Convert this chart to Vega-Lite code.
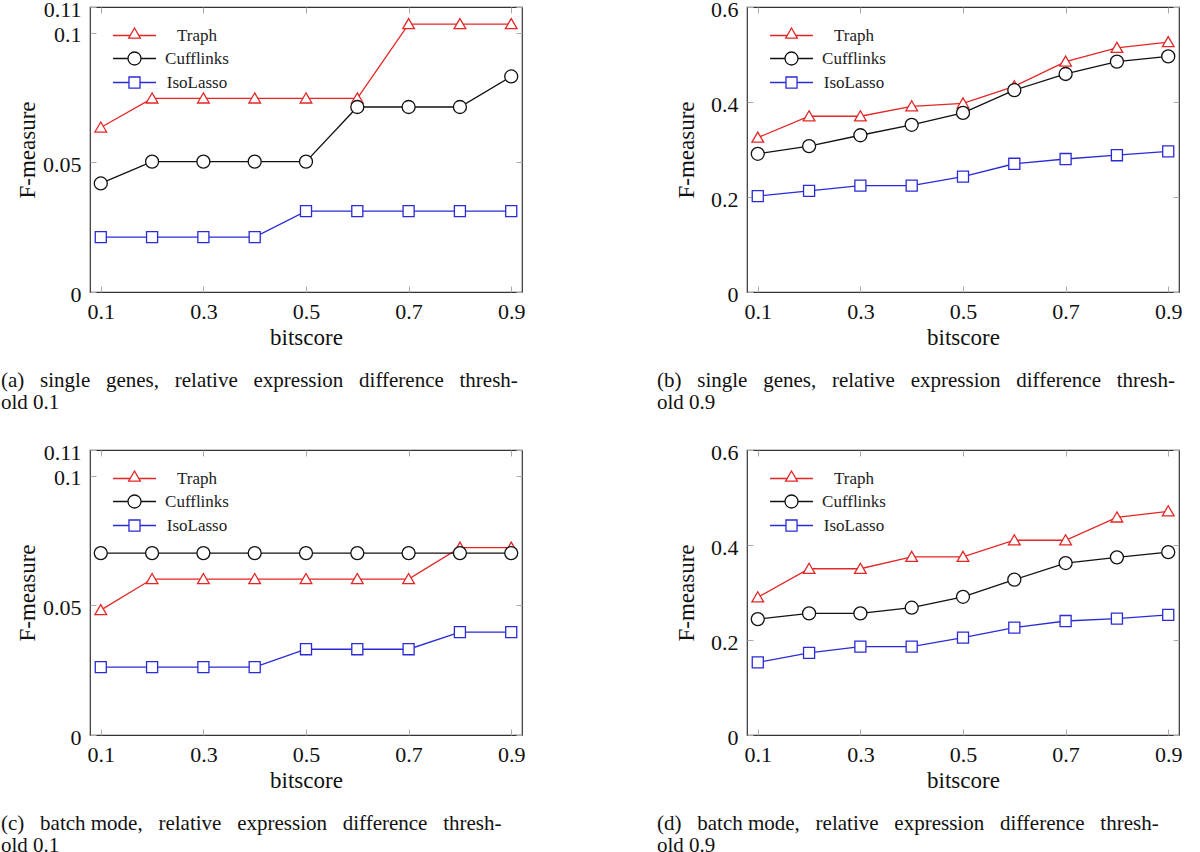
{
  "$schema": "https://vega.github.io/schema/vega-lite/v6.json",
  "padding": {"top": -3, "left": 0, "right": 0, "bottom": 0},
  "background": "white",
  "datasets": {
    "a": [
      {"m": "Traph", "x": 0.1, "y": 0.0635}, {"m": "Traph", "x": 0.2, "y": 0.0747}, {"m": "Traph", "x": 0.3, "y": 0.0747}, {"m": "Traph", "x": 0.4, "y": 0.0747}, {"m": "Traph", "x": 0.5, "y": 0.0747}, {"m": "Traph", "x": 0.6, "y": 0.0747}, {"m": "Traph", "x": 0.7, "y": 0.1034}, {"m": "Traph", "x": 0.8, "y": 0.1034}, {"m": "Traph", "x": 0.9, "y": 0.1034},
      {"m": "Cufflinks", "x": 0.1, "y": 0.0419}, {"m": "Cufflinks", "x": 0.2, "y": 0.0503}, {"m": "Cufflinks", "x": 0.3, "y": 0.0503}, {"m": "Cufflinks", "x": 0.4, "y": 0.0503}, {"m": "Cufflinks", "x": 0.5, "y": 0.0503}, {"m": "Cufflinks", "x": 0.6, "y": 0.0714}, {"m": "Cufflinks", "x": 0.7, "y": 0.0714}, {"m": "Cufflinks", "x": 0.8, "y": 0.0714}, {"m": "Cufflinks", "x": 0.9, "y": 0.0832},
      {"m": "IsoLasso", "x": 0.1, "y": 0.0212}, {"m": "IsoLasso", "x": 0.2, "y": 0.0212}, {"m": "IsoLasso", "x": 0.3, "y": 0.0212}, {"m": "IsoLasso", "x": 0.4, "y": 0.0212}, {"m": "IsoLasso", "x": 0.5, "y": 0.0312}, {"m": "IsoLasso", "x": 0.6, "y": 0.0312}, {"m": "IsoLasso", "x": 0.7, "y": 0.0312}, {"m": "IsoLasso", "x": 0.8, "y": 0.0312}, {"m": "IsoLasso", "x": 0.9, "y": 0.0312}
    ],
    "b": [
      {"m": "Traph", "x": 0.1, "y": 0.325}, {"m": "Traph", "x": 0.2, "y": 0.370}, {"m": "Traph", "x": 0.3, "y": 0.370}, {"m": "Traph", "x": 0.4, "y": 0.391}, {"m": "Traph", "x": 0.5, "y": 0.397}, {"m": "Traph", "x": 0.6, "y": 0.433}, {"m": "Traph", "x": 0.7, "y": 0.485}, {"m": "Traph", "x": 0.8, "y": 0.514}, {"m": "Traph", "x": 0.9, "y": 0.526},
      {"m": "Cufflinks", "x": 0.1, "y": 0.291}, {"m": "Cufflinks", "x": 0.2, "y": 0.307}, {"m": "Cufflinks", "x": 0.3, "y": 0.330}, {"m": "Cufflinks", "x": 0.4, "y": 0.352}, {"m": "Cufflinks", "x": 0.5, "y": 0.377}, {"m": "Cufflinks", "x": 0.6, "y": 0.425}, {"m": "Cufflinks", "x": 0.7, "y": 0.459}, {"m": "Cufflinks", "x": 0.8, "y": 0.485}, {"m": "Cufflinks", "x": 0.9, "y": 0.496},
      {"m": "IsoLasso", "x": 0.1, "y": 0.202}, {"m": "IsoLasso", "x": 0.2, "y": 0.213}, {"m": "IsoLasso", "x": 0.3, "y": 0.224}, {"m": "IsoLasso", "x": 0.4, "y": 0.224}, {"m": "IsoLasso", "x": 0.5, "y": 0.243}, {"m": "IsoLasso", "x": 0.6, "y": 0.270}, {"m": "IsoLasso", "x": 0.7, "y": 0.280}, {"m": "IsoLasso", "x": 0.8, "y": 0.288}, {"m": "IsoLasso", "x": 0.9, "y": 0.296}
    ],
    "c": [
      {"m": "Traph", "x": 0.1, "y": 0.0482}, {"m": "Traph", "x": 0.2, "y": 0.0602}, {"m": "Traph", "x": 0.3, "y": 0.0602}, {"m": "Traph", "x": 0.4, "y": 0.0602}, {"m": "Traph", "x": 0.5, "y": 0.0602}, {"m": "Traph", "x": 0.6, "y": 0.0602}, {"m": "Traph", "x": 0.7, "y": 0.0602}, {"m": "Traph", "x": 0.8, "y": 0.0723}, {"m": "Traph", "x": 0.9, "y": 0.0723},
      {"m": "Cufflinks", "x": 0.1, "y": 0.0702}, {"m": "Cufflinks", "x": 0.2, "y": 0.0702}, {"m": "Cufflinks", "x": 0.3, "y": 0.0702}, {"m": "Cufflinks", "x": 0.4, "y": 0.0702}, {"m": "Cufflinks", "x": 0.5, "y": 0.0702}, {"m": "Cufflinks", "x": 0.6, "y": 0.0702}, {"m": "Cufflinks", "x": 0.7, "y": 0.0702}, {"m": "Cufflinks", "x": 0.8, "y": 0.0702}, {"m": "Cufflinks", "x": 0.9, "y": 0.0702},
      {"m": "IsoLasso", "x": 0.1, "y": 0.0262}, {"m": "IsoLasso", "x": 0.2, "y": 0.0262}, {"m": "IsoLasso", "x": 0.3, "y": 0.0262}, {"m": "IsoLasso", "x": 0.4, "y": 0.0262}, {"m": "IsoLasso", "x": 0.5, "y": 0.0331}, {"m": "IsoLasso", "x": 0.6, "y": 0.0331}, {"m": "IsoLasso", "x": 0.7, "y": 0.0331}, {"m": "IsoLasso", "x": 0.8, "y": 0.0397}, {"m": "IsoLasso", "x": 0.9, "y": 0.0397}
    ],
    "d": [
      {"m": "Traph", "x": 0.1, "y": 0.290}, {"m": "Traph", "x": 0.2, "y": 0.350}, {"m": "Traph", "x": 0.3, "y": 0.350}, {"m": "Traph", "x": 0.4, "y": 0.375}, {"m": "Traph", "x": 0.5, "y": 0.375}, {"m": "Traph", "x": 0.6, "y": 0.410}, {"m": "Traph", "x": 0.7, "y": 0.410}, {"m": "Traph", "x": 0.8, "y": 0.458}, {"m": "Traph", "x": 0.9, "y": 0.471},
      {"m": "Cufflinks", "x": 0.1, "y": 0.244}, {"m": "Cufflinks", "x": 0.2, "y": 0.256}, {"m": "Cufflinks", "x": 0.3, "y": 0.256}, {"m": "Cufflinks", "x": 0.4, "y": 0.268}, {"m": "Cufflinks", "x": 0.5, "y": 0.291}, {"m": "Cufflinks", "x": 0.6, "y": 0.327}, {"m": "Cufflinks", "x": 0.7, "y": 0.362}, {"m": "Cufflinks", "x": 0.8, "y": 0.374}, {"m": "Cufflinks", "x": 0.9, "y": 0.385},
      {"m": "IsoLasso", "x": 0.1, "y": 0.153}, {"m": "IsoLasso", "x": 0.2, "y": 0.173}, {"m": "IsoLasso", "x": 0.3, "y": 0.186}, {"m": "IsoLasso", "x": 0.4, "y": 0.186}, {"m": "IsoLasso", "x": 0.5, "y": 0.205}, {"m": "IsoLasso", "x": 0.6, "y": 0.226}, {"m": "IsoLasso", "x": 0.7, "y": 0.240}, {"m": "IsoLasso", "x": 0.8, "y": 0.245}, {"m": "IsoLasso", "x": 0.9, "y": 0.253}
    ]
  },
  "vconcat": [
    {
      "hconcat": [
        {
          "width": 432, "height": 285,
          "data": {"name": "a"},
          "title": {"text": ["(a)\u00a0\u00a0 single\u00a0\u00a0 genes,\u00a0\u00a0 relative\u00a0\u00a0 expression\u00a0\u00a0 difference\u00a0\u00a0 thresh-", "old 0.1"], "dx": -89},
          "encoding": {
            "x": {"field": "x", "type": "quantitative", "scale": {"domain": [0.079, 0.921], "nice": false, "zero": false}, "axis": null},
            "y": {"field": "y", "type": "quantitative", "scale": {"domain": [0, 0.11], "nice": false}, "axis": null},
            "stroke": {"field": "m", "type": "nominal", "scale": {"domain": ["Traph", "Cufflinks", "IsoLasso"], "range": ["#e32626", "#111111", "#2a2ad6"]}, "legend": {"title": null, "orient": "none", "legendX": 36, "legendY": 20, "encode": {"symbols": {"update": {"fill": {"value": "white"}, "strokeWidth": {"value": 1.3}, "shape": {"signal": "datum.value === 'Traph' ? 'M-3.3,0H-0.67M0.67,0H3.3M0,-1.15L0.9,0.4L-0.9,0.4Z' : (datum.value === 'Cufflinks' ? 'M-3.3,0H-1M1,0H3.3M1,0A1,1,0,1,1,-1,0A1,1,0,1,1,1,0Z' : 'M-3.3,0H-0.85M0.85,0H3.3M-0.85,-0.85H0.85V0.85H-0.85Z')"}}}}}}
          },
          "layer": [
            {
              "mark": {"type": "line", "strokeWidth": 1.3},
              "encoding": {
                "x": {"field": "x", "type": "quantitative", "title": "bitscore", "scale": {"domain": [0.079, 0.921], "nice": false, "zero": false}, "axis": {"orient": "bottom", "values": [0.1, 0.3, 0.5, 0.7, 0.9], "labelPadding": 15, "titlePadding": 4}},
                "y": {"field": "y", "type": "quantitative", "title": "F-measure", "scale": {"domain": [0, 0.11], "nice": false}, "axis": {"orient": "left", "values": [0, 0.05, 0.1, 0.11], "labelPadding": 15, "titlePadding": 3, "labelOffset": 2}}
              }
            },
            {
              "transform": [{"filter": "datum.m === 'Traph'"}],
              "mark": {"type": "point", "shape": "M0,-0.85L0.9,0.7L-0.9,0.7Z", "filled": true, "fill": "white", "opacity": 1, "strokeWidth": 1.3, "size": 169},
              "encoding": {
                "x": {"field": "x", "type": "quantitative", "title": null, "scale": {"domain": [0.079, 0.921], "nice": false, "zero": false}, "axis": {"orient": "top", "values": [0.1, 0.3, 0.5, 0.7, 0.9], "labels": false, "title": null, "minExtent": 0, "maxExtent": 0}},
                "y": {"field": "y", "type": "quantitative", "title": null, "scale": {"domain": [0, 0.11], "nice": false}, "axis": {"orient": "right", "values": [0, 0.05, 0.1, 0.11], "labels": false, "title": null, "minExtent": 0, "maxExtent": 0}}
              }
            },
            {
              "transform": [{"filter": "datum.m === 'Cufflinks'"}],
              "mark": {"type": "point", "shape": "circle", "filled": true, "fill": "white", "opacity": 1, "strokeWidth": 1.3, "size": 169}
            },
            {
              "transform": [{"filter": "datum.m === 'IsoLasso'"}],
              "mark": {"type": "point", "shape": "M-0.85,-0.85H0.85V0.85H-0.85Z", "filled": true, "fill": "white", "opacity": 1, "strokeWidth": 1.3, "size": 169}
            }
          ]
        },
        {
          "width": 432, "height": 285,
          "data": {"name": "b"},
          "title": {"text": ["(b)\u00a0\u00a0 single\u00a0\u00a0 genes,\u00a0\u00a0 relative\u00a0\u00a0 expression\u00a0\u00a0 difference\u00a0\u00a0 thresh-", "old 0.9"], "dx": -90},
          "encoding": {
            "x": {"field": "x", "type": "quantitative", "scale": {"domain": [0.079, 0.921], "nice": false, "zero": false}, "axis": null},
            "y": {"field": "y", "type": "quantitative", "scale": {"domain": [0, 0.6], "nice": false}, "axis": null},
            "stroke": {"field": "m", "type": "nominal", "scale": {"domain": ["Traph", "Cufflinks", "IsoLasso"], "range": ["#e32626", "#111111", "#2a2ad6"]}, "legend": {"title": null, "orient": "none", "legendX": 36, "legendY": 20, "encode": {"symbols": {"update": {"fill": {"value": "white"}, "strokeWidth": {"value": 1.3}, "shape": {"signal": "datum.value === 'Traph' ? 'M-3.3,0H-0.67M0.67,0H3.3M0,-1.15L0.9,0.4L-0.9,0.4Z' : (datum.value === 'Cufflinks' ? 'M-3.3,0H-1M1,0H3.3M1,0A1,1,0,1,1,-1,0A1,1,0,1,1,1,0Z' : 'M-3.3,0H-0.85M0.85,0H3.3M-0.85,-0.85H0.85V0.85H-0.85Z')"}}}}}}
          },
          "layer": [
            {
              "mark": {"type": "line", "strokeWidth": 1.3},
              "encoding": {
                "x": {"field": "x", "type": "quantitative", "title": "bitscore", "scale": {"domain": [0.079, 0.921], "nice": false, "zero": false}, "axis": {"orient": "bottom", "values": [0.1, 0.3, 0.5, 0.7, 0.9], "labelPadding": 15, "titlePadding": 4}},
                "y": {"field": "y", "type": "quantitative", "title": "F-measure", "scale": {"domain": [0, 0.6], "nice": false}, "axis": {"orient": "left", "values": [0, 0.2, 0.4, 0.6], "labelPadding": 15, "titlePadding": 12, "labelOffset": 2}}
              }
            },
            {
              "transform": [{"filter": "datum.m === 'Traph'"}],
              "mark": {"type": "point", "shape": "M0,-0.85L0.9,0.7L-0.9,0.7Z", "filled": true, "fill": "white", "opacity": 1, "strokeWidth": 1.3, "size": 169},
              "encoding": {
                "x": {"field": "x", "type": "quantitative", "title": null, "scale": {"domain": [0.079, 0.921], "nice": false, "zero": false}, "axis": {"orient": "top", "values": [0.1, 0.3, 0.5, 0.7, 0.9], "labels": false, "title": null, "minExtent": 0, "maxExtent": 0}},
                "y": {"field": "y", "type": "quantitative", "title": null, "scale": {"domain": [0, 0.6], "nice": false}, "axis": {"orient": "right", "values": [0, 0.2, 0.4, 0.6], "labels": false, "title": null, "minExtent": 0, "maxExtent": 0}}
              }
            },
            {
              "transform": [{"filter": "datum.m === 'Cufflinks'"}],
              "mark": {"type": "point", "shape": "circle", "filled": true, "fill": "white", "opacity": 1, "strokeWidth": 1.3, "size": 169}
            },
            {
              "transform": [{"filter": "datum.m === 'IsoLasso'"}],
              "mark": {"type": "point", "shape": "M-0.85,-0.85H0.85V0.85H-0.85Z", "filled": true, "fill": "white", "opacity": 1, "strokeWidth": 1.3, "size": 169}
            }
          ]
        }
      ],
      "spacing": 130,
      "resolve": {"scale": {"stroke": "independent"}}
    },
    {
      "hconcat": [
        {
          "width": 432, "height": 285,
          "data": {"name": "c"},
          "title": {"text": ["(c)\u00a0\u00a0 batch mode,\u00a0\u00a0 relative\u00a0\u00a0 expression\u00a0\u00a0 difference\u00a0\u00a0 thresh-", "old 0.1"], "dx": -89},
          "encoding": {
            "x": {"field": "x", "type": "quantitative", "scale": {"domain": [0.079, 0.921], "nice": false, "zero": false}, "axis": null},
            "y": {"field": "y", "type": "quantitative", "scale": {"domain": [0, 0.11], "nice": false}, "axis": null},
            "stroke": {"field": "m", "type": "nominal", "scale": {"domain": ["Traph", "Cufflinks", "IsoLasso"], "range": ["#e32626", "#111111", "#2a2ad6"]}, "legend": {"title": null, "orient": "none", "legendX": 36, "legendY": 20, "encode": {"symbols": {"update": {"fill": {"value": "white"}, "strokeWidth": {"value": 1.3}, "shape": {"signal": "datum.value === 'Traph' ? 'M-3.3,0H-0.67M0.67,0H3.3M0,-1.15L0.9,0.4L-0.9,0.4Z' : (datum.value === 'Cufflinks' ? 'M-3.3,0H-1M1,0H3.3M1,0A1,1,0,1,1,-1,0A1,1,0,1,1,1,0Z' : 'M-3.3,0H-0.85M0.85,0H3.3M-0.85,-0.85H0.85V0.85H-0.85Z')"}}}}}}
          },
          "layer": [
            {
              "mark": {"type": "line", "strokeWidth": 1.3},
              "encoding": {
                "x": {"field": "x", "type": "quantitative", "title": "bitscore", "scale": {"domain": [0.079, 0.921], "nice": false, "zero": false}, "axis": {"orient": "bottom", "values": [0.1, 0.3, 0.5, 0.7, 0.9], "labelPadding": 15, "titlePadding": 4}},
                "y": {"field": "y", "type": "quantitative", "title": "F-measure", "scale": {"domain": [0, 0.11], "nice": false}, "axis": {"orient": "left", "values": [0, 0.05, 0.1, 0.11], "labelPadding": 15, "titlePadding": 3, "labelOffset": 2}}
              }
            },
            {
              "transform": [{"filter": "datum.m === 'Traph'"}],
              "mark": {"type": "point", "shape": "M0,-0.85L0.9,0.7L-0.9,0.7Z", "filled": true, "fill": "white", "opacity": 1, "strokeWidth": 1.3, "size": 169},
              "encoding": {
                "x": {"field": "x", "type": "quantitative", "title": null, "scale": {"domain": [0.079, 0.921], "nice": false, "zero": false}, "axis": {"orient": "top", "values": [0.1, 0.3, 0.5, 0.7, 0.9], "labels": false, "title": null, "minExtent": 0, "maxExtent": 0}},
                "y": {"field": "y", "type": "quantitative", "title": null, "scale": {"domain": [0, 0.11], "nice": false}, "axis": {"orient": "right", "values": [0, 0.05, 0.1, 0.11], "labels": false, "title": null, "minExtent": 0, "maxExtent": 0}}
              }
            },
            {
              "transform": [{"filter": "datum.m === 'Cufflinks'"}],
              "mark": {"type": "point", "shape": "circle", "filled": true, "fill": "white", "opacity": 1, "strokeWidth": 1.3, "size": 169}
            },
            {
              "transform": [{"filter": "datum.m === 'IsoLasso'"}],
              "mark": {"type": "point", "shape": "M-0.85,-0.85H0.85V0.85H-0.85Z", "filled": true, "fill": "white", "opacity": 1, "strokeWidth": 1.3, "size": 169}
            }
          ]
        },
        {
          "width": 432, "height": 285,
          "data": {"name": "d"},
          "title": {"text": ["(d)\u00a0\u00a0 batch mode,\u00a0\u00a0 relative\u00a0\u00a0 expression\u00a0\u00a0 difference\u00a0\u00a0 thresh-", "old 0.9"], "dx": -90},
          "encoding": {
            "x": {"field": "x", "type": "quantitative", "scale": {"domain": [0.079, 0.921], "nice": false, "zero": false}, "axis": null},
            "y": {"field": "y", "type": "quantitative", "scale": {"domain": [0, 0.6], "nice": false}, "axis": null},
            "stroke": {"field": "m", "type": "nominal", "scale": {"domain": ["Traph", "Cufflinks", "IsoLasso"], "range": ["#e32626", "#111111", "#2a2ad6"]}, "legend": {"title": null, "orient": "none", "legendX": 36, "legendY": 20, "encode": {"symbols": {"update": {"fill": {"value": "white"}, "strokeWidth": {"value": 1.3}, "shape": {"signal": "datum.value === 'Traph' ? 'M-3.3,0H-0.67M0.67,0H3.3M0,-1.15L0.9,0.4L-0.9,0.4Z' : (datum.value === 'Cufflinks' ? 'M-3.3,0H-1M1,0H3.3M1,0A1,1,0,1,1,-1,0A1,1,0,1,1,1,0Z' : 'M-3.3,0H-0.85M0.85,0H3.3M-0.85,-0.85H0.85V0.85H-0.85Z')"}}}}}}
          },
          "layer": [
            {
              "mark": {"type": "line", "strokeWidth": 1.3},
              "encoding": {
                "x": {"field": "x", "type": "quantitative", "title": "bitscore", "scale": {"domain": [0.079, 0.921], "nice": false, "zero": false}, "axis": {"orient": "bottom", "values": [0.1, 0.3, 0.5, 0.7, 0.9], "labelPadding": 15, "titlePadding": 4}},
                "y": {"field": "y", "type": "quantitative", "title": "F-measure", "scale": {"domain": [0, 0.6], "nice": false}, "axis": {"orient": "left", "values": [0, 0.2, 0.4, 0.6], "labelPadding": 15, "titlePadding": 12, "labelOffset": 2}}
              }
            },
            {
              "transform": [{"filter": "datum.m === 'Traph'"}],
              "mark": {"type": "point", "shape": "M0,-0.85L0.9,0.7L-0.9,0.7Z", "filled": true, "fill": "white", "opacity": 1, "strokeWidth": 1.3, "size": 169},
              "encoding": {
                "x": {"field": "x", "type": "quantitative", "title": null, "scale": {"domain": [0.079, 0.921], "nice": false, "zero": false}, "axis": {"orient": "top", "values": [0.1, 0.3, 0.5, 0.7, 0.9], "labels": false, "title": null, "minExtent": 0, "maxExtent": 0}},
                "y": {"field": "y", "type": "quantitative", "title": null, "scale": {"domain": [0, 0.6], "nice": false}, "axis": {"orient": "right", "values": [0, 0.2, 0.4, 0.6], "labels": false, "title": null, "minExtent": 0, "maxExtent": 0}}
              }
            },
            {
              "transform": [{"filter": "datum.m === 'Cufflinks'"}],
              "mark": {"type": "point", "shape": "circle", "filled": true, "fill": "white", "opacity": 1, "strokeWidth": 1.3, "size": 169}
            },
            {
              "transform": [{"filter": "datum.m === 'IsoLasso'"}],
              "mark": {"type": "point", "shape": "M-0.85,-0.85H0.85V0.85H-0.85Z", "filled": true, "fill": "white", "opacity": 1, "strokeWidth": 1.3, "size": 169}
            }
          ]
        }
      ],
      "spacing": 130,
      "resolve": {"scale": {"stroke": "independent"}}
    }
  ],
  "spacing": 26,
  "resolve": {"scale": {"stroke": "independent"}},
  "config": {
    "view": {"stroke": "#333333", "strokeWidth": 1.2},
    "title": {"orient": "bottom", "anchor": "start", "frame": "group", "offset": 21, "font": "Liberation Serif", "fontSize": 21, "fontWeight": "normal", "color": "#111111", "lineHeight": 22, "baseline": "top"},
    "axis": {"labelFont": "Liberation Serif", "labelFontSize": 22, "labelColor": "#111111", "titleFont": "Liberation Serif", "titleFontSize": 23, "titleFontWeight": "normal", "titleColor": "#111111", "domain": false, "grid": false, "tickColor": "#aaaaaa", "tickSize": -6, "tickWidth": 1, "labelExpr": "'' + datum.value", "labelFlush": false, "labelOverlap": false},
    "legend": {"padding": 0, "symbolSize": 169, "symbolStrokeWidth": 1.3, "symbolFillColor": "white", "labelFont": "Liberation Serif", "labelFontSize": 17, "labelColor": "#222222", "labelAlign": "center", "labelOffset": 54, "rowPadding": 5}
  }
}
